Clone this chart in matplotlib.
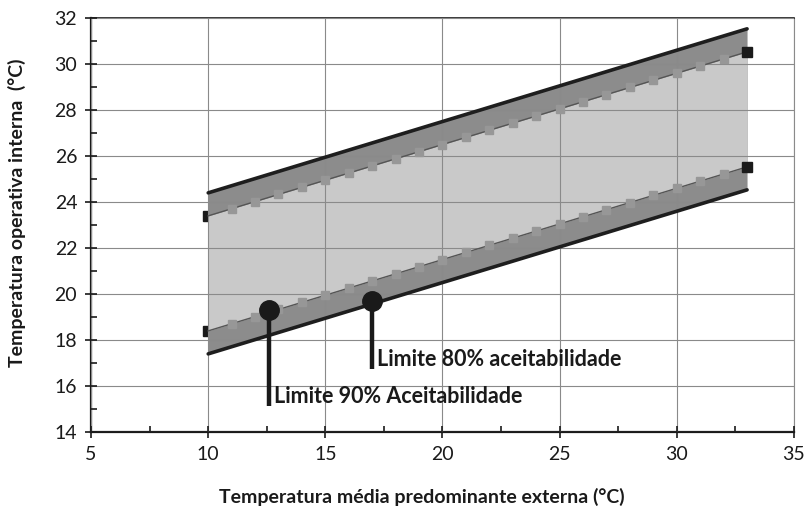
import numpy as np
import matplotlib
matplotlib.use('Agg')
import matplotlib.pyplot as plt
from matplotlib.ticker import MultipleLocator

plt.rcParams['font.family'] = ['Lato', 'DejaVu Sans']

# Prevailing mean outdoor temperature (°C)
t_ext = [10, 11, 12, 13, 14, 15, 16, 17, 18, 19, 20, 21,
         22, 23, 24, 25, 26, 27, 28, 29, 30, 31, 32, 33]

# 80% acceptability limits
sup_80 = [24.40, 24.71, 25.02, 25.33, 25.64, 25.95, 26.26, 26.57, 26.88, 27.19, 27.50, 27.81,
          28.12, 28.43, 28.74, 29.05, 29.36, 29.67, 29.98, 30.29, 30.60, 30.91, 31.22, 31.53]
inf_80 = [17.40, 17.71, 18.02, 18.33, 18.64, 18.95, 19.26, 19.57, 19.88, 20.19, 20.50, 20.81,
          21.12, 21.43, 21.74, 22.05, 22.36, 22.67, 22.98, 23.29, 23.60, 23.91, 24.22, 24.53]

# 90% acceptability limits
sup_90 = [23.40, 23.71, 24.02, 24.33, 24.64, 24.95, 25.26, 25.57, 25.88, 26.19, 26.50, 26.81,
          27.12, 27.43, 27.74, 28.05, 28.36, 28.67, 28.98, 29.29, 29.60, 29.91, 30.22, 30.53]
inf_90 = [18.40, 18.71, 19.02, 19.33, 19.64, 19.95, 20.26, 20.57, 20.88, 21.19, 21.50, 21.81,
          22.12, 22.43, 22.74, 23.05, 23.36, 23.67, 23.98, 24.29, 24.60, 24.91, 25.22, 25.53]

# callout points: (x, y on the limit line, bottom of the leader)
label_90 = (12.6, 19.3, 15.15)
label_80 = (17.0, 19.7, 16.75)

fig = plt.figure(figsize=(8.06, 5.15), dpi=100)
ax = fig.add_axes([0.113, 0.161, 0.872, 0.804])

ax.set_xlim(5, 35)
ax.set_ylim(14, 32)

# end markers sit under the bands so only half shows at x=10
ax.plot([t_ext[0], t_ext[0]], [sup_90[0], inf_90[0]], 's', color='#1a1a1a', ms=7, zorder=1, ls='none')

ax.fill_between(t_ext, inf_80, sup_80, color='#8c8c8c', lw=0, zorder=2)
ax.fill_between(t_ext, inf_90, sup_90, color='#c9c9c9', lw=0, zorder=2)

ax.grid(True, which='major', color='#8a8a8a', lw=0.8, zorder=3)
ax.set_axisbelow(False)

ax.plot(t_ext, sup_80, color='#1e1e1e', lw=2.6, solid_capstyle='round', zorder=5)
ax.plot(t_ext, inf_80, color='#1e1e1e', lw=2.6, solid_capstyle='round', zorder=5)

for serie in (sup_90, inf_90):
    ax.plot(t_ext, serie, color='#555555', lw=1.0, zorder=4)
    ax.plot(t_ext[1:-1], serie[1:-1], 's', ms=6, mfc='#979797', mec='#979797', zorder=4)
    ax.plot(t_ext[-1], serie[-1], 's', color='#1a1a1a', ms=6.5, zorder=6)

# callouts
for (xc, yc, yb), txt in ((label_90, 'Limite 90% Aceitabilidade'),
                          (label_80, 'Limite 80% aceitabilidade')):
    ax.plot([xc, xc], [yb, yc], color='#1a1a1a', lw=3.2, zorder=7, solid_capstyle='butt')
    ax.plot(xc, yc, 'o', color='#1a1a1a', ms=14, zorder=7)
    ax.text(xc + 0.22, yb + 0.4, txt, fontsize=15.5, fontweight='bold',
            va='center', ha='left', color='#1a1a1a', zorder=8)

ax.xaxis.set_major_locator(MultipleLocator(5))
ax.xaxis.set_minor_locator(MultipleLocator(2.5))
ax.yaxis.set_major_locator(MultipleLocator(2))
ax.yaxis.set_minor_locator(MultipleLocator(1))
ax.tick_params(which='major', direction='inout', length=8, width=1.2, labelsize=14,
               colors='#1a1a1a', pad=6)
ax.tick_params(which='minor', direction='in', length=4, width=1.2, colors='#1a1a1a')

for s in ('left', 'bottom'):
    ax.spines[s].set_linewidth(1.6)
    ax.spines[s].set_color('#1a1a1a')
ax.spines['top'].set_linewidth(1.2)
ax.spines['top'].set_color('#1a1a1a')
ax.spines['right'].set_linewidth(0.8)
ax.spines['right'].set_color('#8a8a8a')

ax.set_xlabel('Temperatura média predominante externa (°C)', fontsize=14,
              fontweight='bold', color='#1a1a1a')
ax.xaxis.set_label_coords(0.471, -0.135)
ax.set_ylabel('Temperatura operativa interna  (°C)', fontsize=14,
              fontweight='bold', color='#1a1a1a')
ax.yaxis.set_label_coords(-0.092, 0.53)

fig.savefig('out.png', dpi=100)
